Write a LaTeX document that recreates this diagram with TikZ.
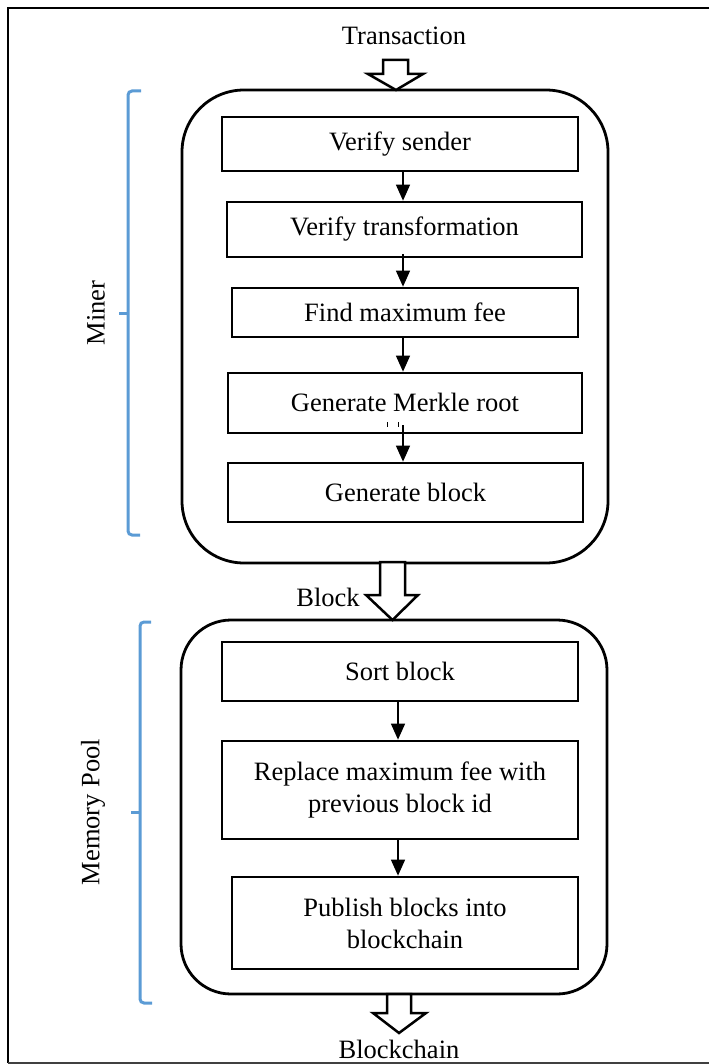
\documentclass[tikz,border=0pt]{standalone}
\usepackage{fontspec}
\setmainfont{Liberation Serif}
\usetikzlibrary{arrows.meta,calc}
\definecolor{bracketblue}{RGB}{91,155,213}
\begin{document}
\begin{tikzpicture}[x=1pt,y=-1pt,
  txt/.style={font=\fontsize{26.5}{32}\selectfont,inner sep=0pt},
  stepbox/.style={draw,line width=2.7pt,inner sep=0pt,align=center,font=\fontsize{26.5}{32}\selectfont},
  group/.style={draw,line width=2.8pt,inner sep=0pt},
  flow/.style={line width=1.4pt,-{Triangle[width=14pt,length=16pt]}},
  hollow/.style={draw,line width=2.5pt,fill=white,line join=miter},
  bracket/.style={draw=bracketblue,line width=3pt,rounded corners=4pt}]
\useasboundingbox (0,0) rectangle (709,1064);
% frame
\draw[line width=2.5pt] (709,8) -- (8,8) -- (8,1063);
\draw[line width=1.6pt,black!75] (8,1063) -- (709,1063);

% group boxes
\node[group,rounded corners=62pt,minimum width=426pt,minimum height=473pt] (miner) at (395,326.5) {};
\node[group,rounded corners=50pt,minimum width=426pt,minimum height=374pt] (pool) at (394,807) {};

% steps
\node[stepbox,minimum width=356pt,minimum height=54pt] (s1) at (400,144) {Verify sender};
\node[stepbox,minimum width=355pt,minimum height=55pt] (s2) at (404.5,229.5) {Verify transformation};
\node[stepbox,minimum width=346pt,minimum height=49pt] (s3) at (405,312.5) {Find maximum fee};
\node[stepbox,minimum width=354pt,minimum height=60pt] (s4) at (405,403) {\raisebox{2pt}{Generate Merkle root}};
\node[stepbox,minimum width=355pt,minimum height=59pt] (s5) at (405.5,492.5) {Generate block};
\node[stepbox,minimum width=356pt,minimum height=59pt] (s6) at (400,671.5) {Sort block};
\node[stepbox,minimum width=356pt,minimum height=98pt] (s7) at (400,790) {Replace maximum fee with\\previous block id};
\node[stepbox,minimum width=346pt,minimum height=92pt] (s8) at (405,923) {Publish blocks into\\blockchain};

% arrow columns
\coordinate (ca) at (403,0);
\coordinate (cb) at (398,0);
\draw[flow] (s1.south -| ca) -- (s2.north -| ca);
\draw[flow] ($(s2.south -| ca)+(0,-4)$) -- (s3.north -| ca);
\draw[flow] (s3.south -| ca) -- (s4.north -| ca);
\draw[flow] ($(s4.south -| ca)+(0,-9)$) -- (s5.north -| ca);
\draw[flow] (s6.south -| cb) -- (s7.north -| cb);
\draw[flow] (s7.south -| cb) -- (s8.north -| cb);
% small marks under Merkle text
\draw[line width=0.9pt] (387,422) -- (387,427);
\draw[line width=0.9pt] (398,422) -- (398,427);

% hollow arrows
\path[hollow] (383,60) -- (408,60) -- (408,74) -- (423,74) -- (396,90) -- (368,74) -- (383,74) -- cycle;
\path[hollow] (380,562) -- (405,562) -- (405,595) -- (418,595) -- (392.5,620) -- (366,595) -- (380,595) -- cycle;
\path[hollow] (387,994) -- (411,994) -- (411,1013) -- (426,1013) -- (399,1033) -- (373,1013) -- (387,1013) -- cycle;

% labels
\node[txt] (tr) at (404,36) {Transaction};
\node[txt] (bl) at (328,597) {Block};
\node[txt] (bc) at (399,1049) {Blockchain};
\node[txt,rotate=90] (ml) at (96,313) {Miner};
\node[txt,rotate=90] (pl) at (93,812) {Memory Pool};

% brackets
\path[bracket] (141,91) -- (128,91) -- (128,535) -- (140,535);
\draw[bracketblue,line width=3pt] (128,313) -- (119,313);
\path[bracket] (151,622) -- (140,622) -- (140,1003) -- (152,1003);
\draw[bracketblue,line width=3pt] (140,812) -- (131,812);
\end{tikzpicture}
\end{document}
